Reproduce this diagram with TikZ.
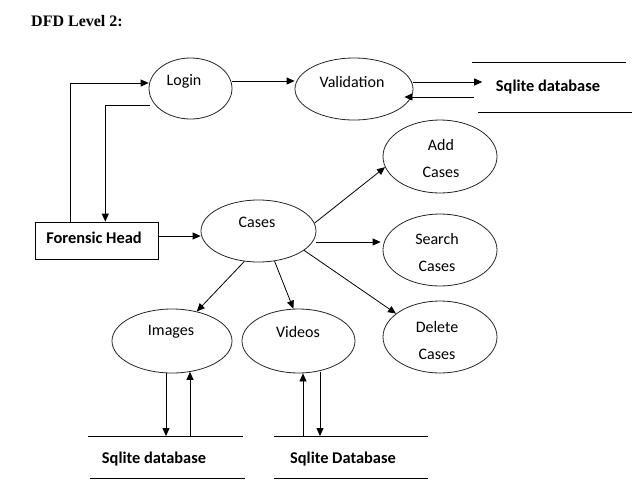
\documentclass[tikz,border=0pt]{standalone}
\usepackage{fontspec}
\setmainfont{Liberation Serif}
\newfontfamily\calib{Carlito}
\usetikzlibrary{shapes.geometric,arrows.meta,positioning}
\tikzset{
  proc/.style={ellipse,draw=black!85,line width=0.8pt,inner sep=0pt},
  lbl/.style={font=\calib\fontsize{16}{27}\selectfont,align=center,inner sep=0pt},
  blbl/.style={font=\calib\bfseries\fontsize{16.4}{19}\selectfont,inner sep=0pt},
  arr/.style={line width=0.8pt,-{Triangle[length=8pt,width=7pt]}},
  ln/.style={line width=0.8pt},
}
\begin{document}
\begin{tikzpicture}[x=1pt,y=1pt]
\useasboundingbox[fill=white] (0,0) rectangle (641,-496);
% title
\node[font=\bfseries\fontsize{16}{19}\selectfont,anchor=base west,inner sep=0pt] (title) at (31,-26) {DFD Level 2:};
% processes
\node[proc,minimum width=83pt,minimum height=61pt] (login) at (190.5,-88.5) {};
\node[lbl] (loginT) at (184,-81) {Login};
\node[proc,minimum width=118pt,minimum height=62pt] (validation) at (354,-89) {};
\node[lbl] (validationT) at (352,-82) {Validation};
\node[proc,minimum width=115pt,minimum height=62pt] (cases) at (258.5,-231) {};
\node[lbl] (casesT) at (257,-222) {Cases};
\node[proc,minimum width=114pt,minimum height=73pt] (add) at (440,-156.5) {};
\node[lbl] (addT) at (441,-158.5) {Add\\Cases};
\node[proc,minimum width=114pt,minimum height=72pt] (search) at (440,-250) {};
\node[lbl] (searchT) at (437,-252.5) {Search\\Cases};
\node[proc,minimum width=114pt,minimum height=72pt] (delete) at (440,-337) {};
\node[lbl] (deleteT) at (437,-340) {Delete\\Cases};
\node[proc,minimum width=120pt,minimum height=64pt] (images) at (172,-341) {};
\node[lbl] (imagesT) at (171,-332) {Images};
\node[proc,minimum width=113pt,minimum height=64pt] (videos) at (298.5,-341) {};
\node[lbl] (videosT) at (298,-332) {Videos};
% external entity
\node[draw,ln,minimum width=123pt,minimum height=37pt,inner sep=0pt] (fh) at (96.5,-240.5) {};
\node[blbl] (fhT) at (94,-238) {Forensic Head};
% data stores
\node[blbl,inner xsep=12.5pt] (dbA) at (548,-87) {Sqlite database};
\draw[ln] (472,-62) -- (626,-62);
\draw[ln] (478,-112) -- (632,-112);
\node[blbl] (dbB) at (154,-459) {Sqlite database};
\draw[ln] (88,-436) -- (243,-436);
\draw[ln] (90,-478) -- (245,-478);
\node[blbl] (dbC) at (343,-459) {Sqlite Database};
\draw[ln] (274,-436) -- (428,-436);
\draw[ln] (274,-478) -- (428,-478);
\coordinate (storetop) at (0,-436);
% connectors
\draw[arr] ([xshift=-26.5pt]fh.north) |- ([yshift=5.5pt]login.west);
\draw[arr] ([yshift=-16.5pt,xshift=1pt]login.west) -| ([xshift=8.8pt]fh.north);
\draw[arr] ([yshift=7.5pt]login.east) -- ([yshift=7.5pt]login.east -| validation.west);
\draw[arr] ([yshift=7pt]validation.east) -- ([yshift=7pt,xshift=-1pt]validation.east -| dbA.west);
\draw[arr] ([yshift=-10pt,xshift=-9pt]dbA.west) -- ([yshift=-10pt,xshift=-9pt]dbA.west -| validation.east);
\draw[arr] ([yshift=4.5pt]fh.east) -- ([yshift=4.5pt]fh.east -| cases.west);
\draw[arr] (cases.8) -- (add.191);
\draw[arr] ([yshift=-11pt]cases.east) -- ([yshift=-11pt,xshift=-2pt]cases.east -| search.west);
\draw[arr] (cases.-23) -- (delete.152);
\draw[arr] (cases.245) -- (images.50);
\draw[arr] (cases.298) -- (videos.99);
\draw[arr] ([xshift=-6pt]images.south) -- ([xshift=-6pt]images.south |- storetop);
\draw[arr] ([xshift=18pt]images.south |- storetop) -- ([xshift=18pt,yshift=1.5pt]images.south);
\draw[arr] ([xshift=4.5pt]videos.south |- storetop) -- ([xshift=4.5pt]videos.south);
\draw[arr] ([xshift=21.5pt,yshift=1.5pt]videos.south) -- ([xshift=21.5pt]videos.south |- storetop);
\end{tikzpicture}
\end{document}
